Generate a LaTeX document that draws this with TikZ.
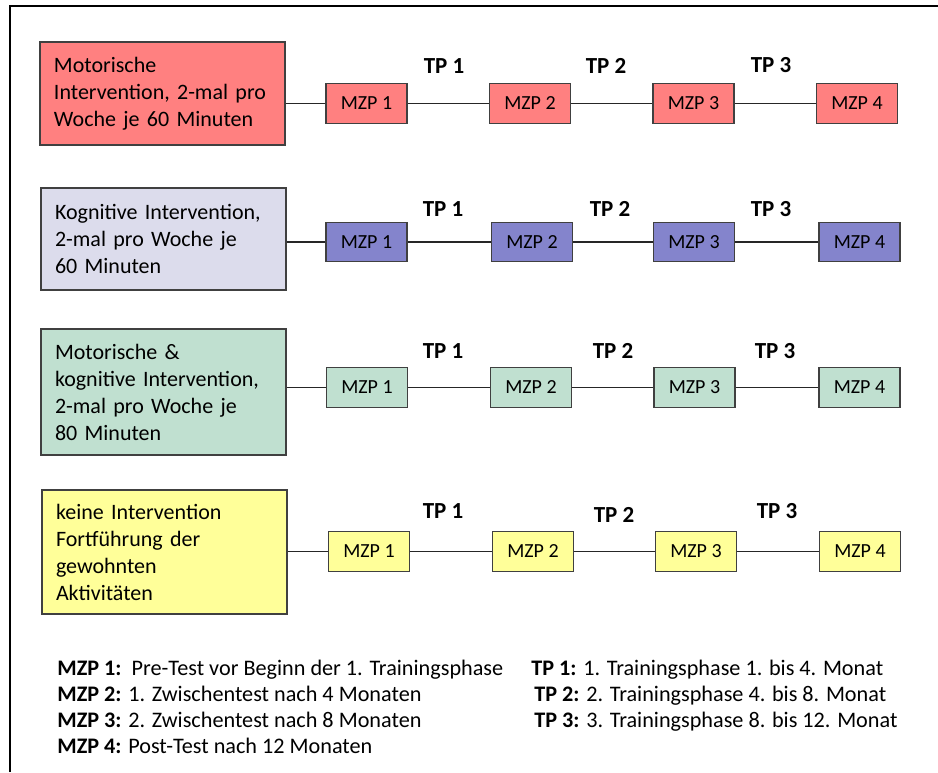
\documentclass[tikz,border=0pt]{standalone}
\usepackage{fontspec}
\setmainfont{Carlito}
\definecolor{redfill}{HTML}{FF8080}
\definecolor{lavfill}{HTML}{DCDCEC}
\definecolor{bluefill}{HTML}{8484CC}
\definecolor{greenfill}{HTML}{C0E0D0}
\definecolor{yellowfill}{HTML}{FFFF99}

\begin{document}
\begin{tikzpicture}[x=0.5pt, y=-0.5pt,
		group/.style = {draw=black!75, line width=0.6pt, text width=108.5pt, inner xsep=7pt, align=left, font=\fontsize{11}{13.5}\selectfont},
		mzp/.style = {draw=black!75, line width=0.6pt, minimum width=40.5pt, minimum height=19.75pt, inner sep=0pt, font=\fontsize{10}{12}\selectfont},
		tp/.style = {font=\fontsize{11.5}{13}\selectfont\bfseries},
		legend/.style = {anchor=base west, inner sep=0pt, font=\fontsize{11.1}{13}\selectfont},
		link/.style = {draw=black!85, line width=0.6pt}]
		\useasboundingbox (0,0) rectangle (938,772);
		\draw[line width=0.75pt] (10,772) -- (10,6) -- (938,6);

		% Motorische Intervention
		\node[group, fill=redfill, minimum height=51.5pt] (g1) at (162.5,93.5) {Motorische\\Intervention, 2-mal pro\\Woche je 60 Minuten};
		\node[mzp, fill=redfill] (m11) at (366.5,103.5) {MZP 1};
		\node[mzp, fill=redfill] (m12) at (530,103.5) {MZP 2};
		\node[mzp, fill=redfill] (m13) at (693.5,103.5) {MZP 3};
		\node[mzp, fill=redfill] (m14) at (857,103.5) {MZP 4};
		\node[tp] (t11) at (444,66) {TP 1};
		\node[tp] (t12) at (606,66) {TP 2};
		\node[tp] (t13) at (771,65) {TP 3};
		\draw[link] (m11) -- (m11 -| g1.east);
		\draw[link] (m11) -- (m12);
		\draw[link] (m12) -- (m13);
		\draw[link] (m13) -- (m14);

		% Kognitive Intervention
		\node[group, fill=lavfill, minimum height=51pt] (g2) at (163.5,239) {Kognitive Intervention,\\2-mal pro Woche je\\60 Minuten};
		\node[mzp, fill=bluefill] (m21) at (366.5,242) {MZP 1};
		\node[mzp, fill=bluefill] (m22) at (532,242) {MZP 2};
		\node[mzp, fill=bluefill] (m23) at (694,242) {MZP 3};
		\node[mzp, fill=bluefill] (m24) at (859.5,242) {MZP 4};
		\node[tp] (t21) at (443,209) {TP 1};
		\node[tp] (t22) at (610,209) {TP 2};
		\node[tp] (t23) at (771,209) {TP 3};
		\draw[link] (m21) -- (m21 -| g2.east);
		\draw[link] (m21) -- (m22);
		\draw[link] (m22) -- (m23);
		\draw[link] (m23) -- (m24);

		% Motorische & kognitive Intervention
		\node[group, fill=greenfill, minimum height=63pt] (g3) at (163.5,392) {Motorische \&\\kognitive Intervention,\\2-mal pro Woche je\\80 Minuten};
		\node[mzp, fill=greenfill] (m31) at (367,387.5) {MZP 1};
		\node[mzp, fill=greenfill] (m32) at (531,387.5) {MZP 2};
		\node[mzp, fill=greenfill] (m33) at (694.5,387.5) {MZP 3};
		\node[mzp, fill=greenfill] (m34) at (859.5,387.5) {MZP 4};
		\node[tp] (t31) at (443,351) {TP 1};
		\node[tp] (t32) at (613,351) {TP 2};
		\node[tp] (t33) at (775,351) {TP 3};
		\draw[link] (m31) -- (m31 -| g3.east);
		\draw[link] (m31) -- (m32);
		\draw[link] (m32) -- (m33);
		\draw[link] (m33) -- (m34);

		% keine Intervention
		\node[group, fill=yellowfill, minimum height=62pt] (g4) at (164.5,552) {keine Intervention\\Fortführung der\\gewohnten\\Aktivitäten};
		\node[mzp, fill=yellowfill] (m41) at (369,551.5) {MZP 1};
		\node[mzp, fill=yellowfill] (m42) at (533,551.5) {MZP 2};
		\node[mzp, fill=yellowfill] (m43) at (696,551.5) {MZP 3};
		\node[mzp, fill=yellowfill] (m44) at (860,551.5) {MZP 4};
		\node[tp] (t41) at (443,511) {TP 1};
		\node[tp] (t42) at (614,515) {TP 2};
		\node[tp] (t43) at (777,511) {TP 3};
		\draw[link] (m41) -- (m41 -| g4.east);
		\draw[link] (m41) -- (m42);
		\draw[link] (m42) -- (m43);
		\draw[link] (m43) -- (m44);

		% Legende
		\node[legend] (l1) at (57,675) {\textbf{MZP 1:}\ \ Pre-Test vor Beginn der 1. Trainingsphase};
		\node[legend] (l2) at (57,701) {\textbf{MZP 2:} 1. Zwischentest nach 4 Monaten};
		\node[legend] (l3) at (57,727) {\textbf{MZP 3:} 2. Zwischentest nach 8 Monaten};
		\node[legend] (l4) at (57,753) {\textbf{MZP 4:} Post-Test nach 12 Monaten};
		\node[legend] (l5) at (531,675) {\textbf{TP 1:} 1. Trainingsphase 1. bis 4. Monat};
		\node[legend] (l6) at (534,701) {\textbf{TP 2:} 2. Trainingsphase 4. bis 8. Monat};
		\node[legend] (l7) at (534,727) {\textbf{TP 3:} 3. Trainingsphase 8. bis 12. Monat};
	\end{tikzpicture}
\end{document}
